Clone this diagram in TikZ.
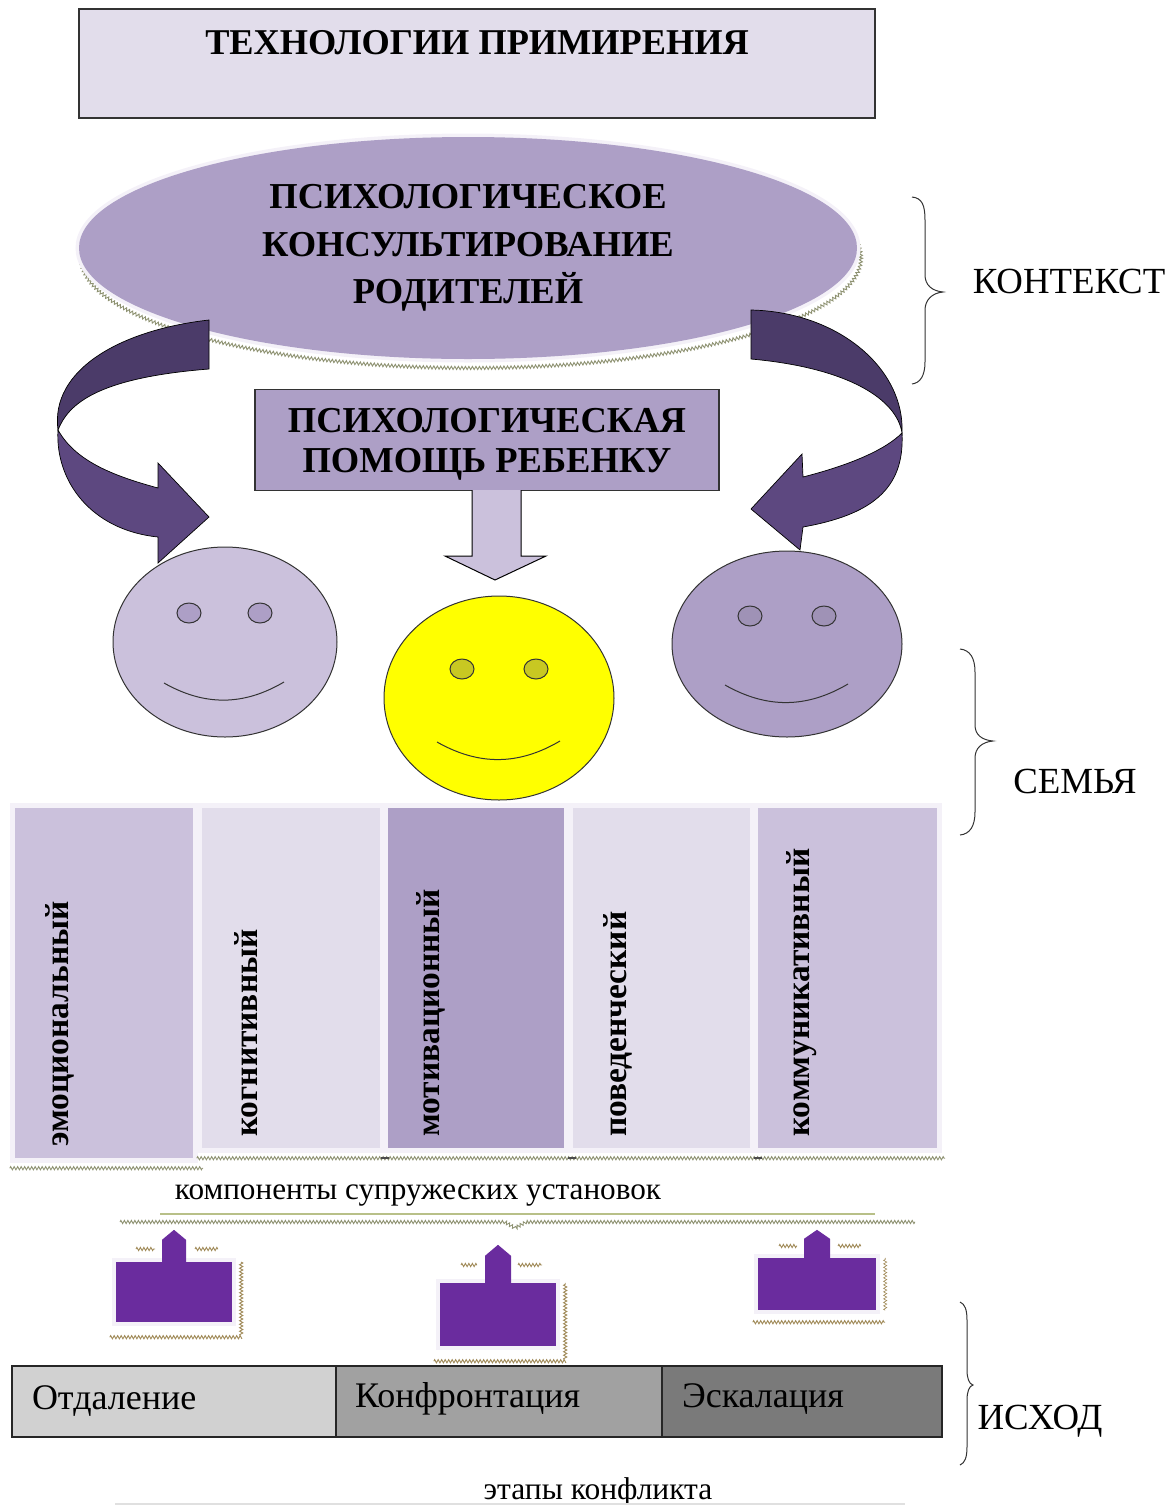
\documentclass[tikz,border=0pt]{standalone}
\usepackage{fontspec}
\setmainfont{Liberation Serif}
\usetikzlibrary{positioning,shapes.geometric,decorations.pathmorphing}
\definecolor{paleviolet}{HTML}{E2DDEB}
\definecolor{softviolet}{HTML}{CBC1DC}
\definecolor{midviolet}{HTML}{AD9FC6}
\definecolor{darkplum}{HTML}{4B3B69}
\definecolor{lowplum}{HTML}{5D4880}
\definecolor{dartviolet}{HTML}{6A2C9E}
\definecolor{haze}{HTML}{F4F1F8}
\definecolor{mossline}{HTML}{8E9272}
\definecolor{rustline}{HTML}{A08A58}
\definecolor{grassline}{HTML}{B8C088}
\definecolor{kidyellow}{HTML}{FFFF00}
\definecolor{kideye}{HTML}{C8C822}
\tikzset{
    %Define style for boxes
    titlebox/.style={
           rectangle,
           draw=black!80, line width=1.5pt,
           inner sep=0pt,
           font=\fontsize{36.3}{47}\selectfont\bfseries,
           align=center},
    % Define face styles
    face/.style={
           ellipse,
           draw=black!80, line width=1pt,
           inner sep=0pt},
    eye/.style={
           face,
           minimum width=24pt,
           minimum height=20pt},
    smile/.style={
           draw=black!80,
           line width=1pt},
    % Define columns of the table
    column/.style={
           rectangle,
           inner sep=0pt,
           minimum height=340pt,
           preaction={draw=haze,line width=10pt}},
    columntext/.style={
           rotate=90,
           anchor=west,
           inner sep=0pt,
           font=\fontsize{33.4}{33.4}\selectfont\bfseries},
    % Define stages of the conflict
    stagebox/.style={
           rectangle,
           draw=black!85, line width=1.5pt,
           minimum height=71pt,
           inner ysep=0pt,
           outer sep=0pt,
           align=left,
           font=\fontsize{36}{36}\selectfont},
    % Define plain labels
    plainlabel/.style={
           inner sep=0pt,
           font=\fontsize{31.2}{31.2}\selectfont},
    sidelabel/.style={
           plainlabel,
           font=\fontsize{36.8}{36.8}\selectfont},
    % Define the block arrows
    ribbon/.style={
           draw=black,
           line width=.7pt},
    dart/.style={
           rectangle,
           inner sep=0pt,
           fill=dartviolet,
           preaction={draw=haze,line width=8pt}},
    % Define the wavy shadow lines
    hatch/.style={
           draw=mossline,
           line width=.9pt,
           decorate,
           decoration={zigzag,amplitude=1.6pt,segment length=3.5pt}},
    rusthatch/.style={
           hatch,
           draw=rustline},
    brace/.style={
           draw=black!80,
           line width=1pt}
}

\begin{document}
\begin{tikzpicture}[x=1pt,y=-1pt]
 \useasboundingbox (0,0) rectangle (1173,1505);
 %title and ellipse
    \node[titlebox, fill=paleviolet, minimum width=796pt, minimum height=109pt, text depth=42pt] (title) at (477,63.5) {ТЕХНОЛОГИИ ПРИМИРЕНИЯ};
    \draw[hatch] (471,258) ellipse [x radius=390pt, y radius=110pt];
    \node[ellipse, fill=midviolet, inner sep=0pt, minimum width=778pt, minimum height=222pt,
          preaction={draw=haze,line width=7pt},
          font=\fontsize{36.5}{47.5}\selectfont\bfseries, align=center] (parents) at (468,248)
          {ПСИХОЛОГИЧЕСКОЕ\\КОНСУЛЬТИРОВАНИЕ\\РОДИТЕЛЕЙ};
    \node[titlebox, fill=midviolet, line width=1.2pt, minimum width=464pt, minimum height=101pt, text depth=-4pt, font=\fontsize{36.5}{40}\selectfont\bfseries] (child) at (487,440) {ПСИХОЛОГИЧЕСКАЯ\\ПОМОЩЬ РЕБЕНКУ};
 %block arrows
    \coordinate (leftturn) at (58,430);
    \coordinate (rightturn) at (902,433);
    \draw[ribbon, fill=darkplum] (209,320) .. controls (120,330) and (50,370) .. (leftturn)
        .. controls (68,405) and (95,378) .. (209,369) -- cycle;
    \draw[ribbon, fill=lowplum] (leftturn) .. controls (55,480) and (90,530) .. (158,537)
        -- (158,563) -- (209,517) -- (158,463) -- (158,488)
        .. controls (110,475) and (75,460) .. cycle;
    \draw[ribbon, fill=darkplum] (751,310) .. controls (840,312) and (905,370) .. (rightturn)
        .. controls (897,400) and (850,368) .. (751,359) -- cycle;
    \draw[ribbon, fill=lowplum] (rightturn) .. controls (905,490) and (870,515) .. (803,527)
        -- (800,550) -- (751,509) -- (802,454) -- (803,477)
        .. controls (850,465) and (885,450) .. cycle;
    \draw[ribbon, fill=softviolet, line width=1pt] (472,490) -- (472,556) -- (445,556) -- (495,580) -- (546,556) -- (521,556) -- (521,490);
 %faces
    \node[face, fill=softviolet, minimum width=224pt, minimum height=190pt] (mother) at (225,642) {};
    \node[eye, fill=midviolet] (motherleye) at (189,613) {};
    \node[eye, fill=midviolet] (motherreye) at (260,613) {};
    \draw[smile] ([shift={(-61pt,-41pt)}]mother.center) to[bend right=30] ([shift={(59pt,-40pt)}]mother.center);
    \node[face, fill=midviolet, minimum width=230pt, minimum height=186pt] (father) at (787,644) {};
    \node[eye, fill=midviolet!92!black] (fatherleye) at (750,616) {};
    \node[eye, fill=midviolet!92!black] (fatherreye) at (824,616) {};
    \draw[smile] ([shift={(-62pt,-41pt)}]father.center) to[bend right=30] ([shift={(61pt,-40pt)}]father.center);
    \node[face, fill=kidyellow, minimum width=230pt, minimum height=204pt] (kid) at (499,698) {};
    \node[eye, fill=kideye] (kidleye) at (462,669) {};
    \node[eye, fill=kideye] (kidreye) at (536,669) {};
    \draw[smile] ([shift={(-62pt,-44pt)}]kid.center) to[bend right=30] ([shift={(61pt,-43pt)}]kid.center);
 %table of components
    \node[column, fill=softviolet, minimum width=178pt, minimum height=350pt] (emotional) at (104,983) {};
    \node[column, fill=paleviolet, minimum width=178pt] (cognitive) at (291,978) {};
    \node[column, fill=midviolet, minimum width=176pt] (motive) at (476,978) {};
    \node[column, fill=paleviolet, minimum width=177pt] (behavior) at (661.5,978) {};
    \node[column, fill=softviolet, minimum width=179pt] (talking) at (847.5,978) {};
    \node[columntext] (emotionaltext) at (60,1147) {эмоциональный};
    \node[columntext] (cognitivetext) at (246,1137) {когнитивный};
    \node[columntext] (motivetext) at (431,1137) {мотивационный};
    \node[columntext] (behaviortext) at (618,1137) {поведенческий};
    \node[columntext] (talkingtext) at (802,1137) {коммуникативный};
    \draw[hatch] ([shift={(-5pt,-10pt)}]emotional.south west) -- ([shift={(10pt,-10pt)}]emotional.south east);
    \draw[hatch] ([shift={(-5pt,-10pt)}]cognitive.south west) -- ([shift={(8pt,-10pt)}]talking.south east);
    \draw[draw=black!70, line width=2.5pt] (381,1158) -- (389,1158) (568,1158) -- (576,1158) (754,1158) -- (762,1158);
    \node[plainlabel] (components) at (418,1195) {компоненты супружеских установок};
 %brace under the table
    \coordinate (lineleft) at (120,1222);
    \coordinate (notchleft) at (505,1222);
    \coordinate (notch) at (515,1228);
    \coordinate (notchright) at (526,1222);
    \coordinate (lineright) at (915,1222);
    \draw[draw=grassline, line width=1.5pt] (160,1214) -- (875,1214);
    \draw[hatch] (lineleft) -- (notchleft) -- (notch) -- (notchright) -- (lineright);
 %small arrows
    \node[dart, minimum width=116pt, minimum height=60pt] (dartone) at (174,1292) {};
    \fill[dartviolet] ([xshift=-12pt]dartone.north) -- ++(0,-22) -- ++(12,-10) -- ++(12,10) -- ++(0,22) -- cycle;
    \draw[rusthatch] ([shift={(-6pt,-15pt)}]dartone.south west) -- ([shift={(9pt,-15pt)}]dartone.south east) -- ([xshift=9pt]dartone.north east);
    \draw[rusthatch] (136,1249) -- (155,1249);
    \draw[rusthatch] (195,1249) -- (218,1249);
    \node[dart, minimum width=116pt, minimum height=63pt] (darttwo) at (498,1314.5) {};
    \fill[dartviolet] ([xshift=-13pt]darttwo.north) -- ++(0,-27) -- ++(13,-11) -- ++(13,11) -- ++(0,27) -- cycle;
    \draw[rusthatch] ([shift={(-6pt,-15pt)}]darttwo.south west) -- ([shift={(9pt,-15pt)}]darttwo.south east) -- ([xshift=9pt]darttwo.north east);
    \draw[rusthatch] (461,1265) -- (477,1265);
    \draw[rusthatch] (518,1265) -- (542,1265);
    \node[dart, minimum width=118pt, minimum height=52pt] (dartthree) at (817,1284) {};
    \fill[dartviolet] ([xshift=-13pt]dartthree.north) -- ++(0,-19) -- ++(13,-9) -- ++(13,9) -- ++(0,19) -- cycle;
    \draw[rusthatch] ([shift={(-5pt,-12pt)}]dartthree.south west) -- ([shift={(9pt,-12pt)}]dartthree.south east);
    \draw[rusthatch, line width=.6pt] ([xshift=9pt]dartthree.south east) -- ([xshift=9pt]dartthree.north east);
    \draw[rusthatch] (779,1246) -- (797,1246);
    \draw[rusthatch] (838,1246) -- (861,1246);
 %stages of the conflict
    \node[stagebox, fill=black!18, minimum width=324pt, text width=284pt, inner xsep=20pt] (distance) at (174,1401.5) {Отдаление};
    \node[stagebox, fill=black!37, minimum width=326pt, text width=288pt, inner xsep=19pt, text depth=14pt, right=0pt of distance] (clash) {Конфронтация};
    \node[stagebox, fill=black!52, minimum width=280pt, text width=240pt, inner xsep=20pt, text depth=11pt, right=0pt of clash] (escalation) {Эскалация};
    \node[plainlabel, font=\fontsize{31.5}{31.5}\selectfont] (stages) at (598,1492) {этапы конфликта};
    \draw[draw=black!12, line width=2pt] (115,1504) -- (905,1504);
 %braces and side labels
    \draw[brace] (912,197) .. controls (922,198) and (925,205) .. (925,220) -- (925,275) .. controls (925,285) and (932,291) .. (943,292)
        .. controls (932,293) and (925,300) .. (925,310) -- (925,362) .. controls (925,376) and (920,383) .. (912,384);
    \node[sidelabel] (context) at (1069,281) {КОНТЕКСТ};
    \draw[brace] (960,649) .. controls (970,650) and (975,658) .. (975,672) -- (975,725) .. controls (975,735) and (982,740) .. (993,741)
        .. controls (982,742) and (975,748) .. (975,758) -- (975,812) .. controls (975,826) and (970,834) .. (960,835);
    \node[sidelabel] (family) at (1075,781) {СЕМЬЯ};
    \draw[brace] (960,1302) .. controls (965,1304) and (967,1310) .. (967,1320) -- (967,1370) .. controls (967,1378) and (969,1384) .. (973,1385)
        .. controls (969,1386) and (967,1392) .. (967,1400) -- (967,1447) .. controls (967,1457) and (965,1463) .. (960,1465);
    \node[sidelabel] (outcome) at (1040,1421) {ИСХОД};
\end{tikzpicture}
\end{document}
